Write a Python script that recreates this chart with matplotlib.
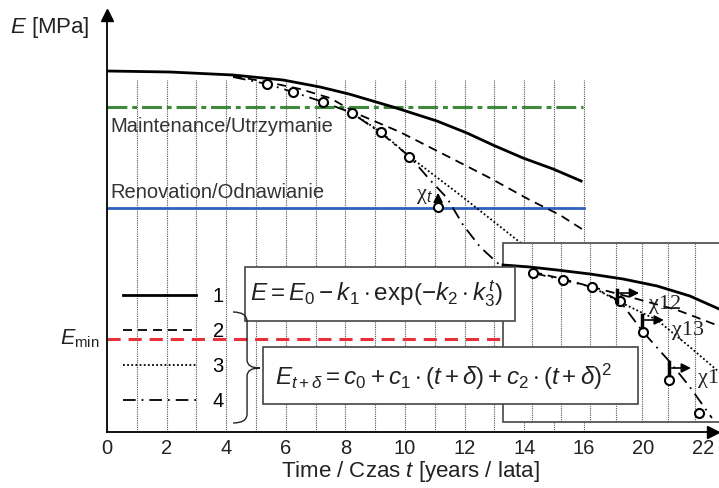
import numpy as np
import matplotlib.pyplot as plt
from matplotlib.patches import Rectangle, PathPatch
from matplotlib.path import Path

plt.rcParams['font.family'] = ['Liberation Sans', 'DejaVu Sans']
plt.rcParams['mathtext.fontset'] = 'custom'
plt.rcParams['mathtext.rm'] = 'Liberation Sans'
plt.rcParams['mathtext.it'] = 'Liberation Sans:italic'
plt.rcParams['mathtext.bf'] = 'Liberation Sans:bold'

# --- dane (czas w latach, E w jednostkach umownych) ---
# krzywa 1 (ciagla)
t1 = [0, 2.11, 4.23, 5.91, 7.15, 8.12, 9.60, 11.07, 12.08, 12.95, 13.96, 14.97, 15.91]
e1 = [90.25, 90.0, 89.25, 88.0, 86.25, 84.5, 81.25, 77.75, 74.75, 71.75, 68.5, 65.75, 62.75]
# krzywa 2 (kreskowa)
t2 = [4.23, 5.37, 6.48, 7.48, 8.49, 9.83, 11.41, 12.85, 14.19, 15.2, 16.04]
e2 = [89.0, 87.5, 85.75, 83.5, 79.25, 75.0, 69.0, 63.5, 58.0, 54.25, 50.25]
# krzywa 3 (kropkowa)
t3 = [8.22, 9.19, 10.17, 11.85, 13.76, 14.87]
e3 = [79.75, 75.0, 68.75, 59.25, 48.0, 41.75]
# krzywa 4 (kreska-kropka)
t4 = [4.23, 5.37, 6.24, 7.25, 8.22, 9.19, 10.17, 10.84, 11.41, 11.95, 12.52, 13.29]
e4 = [88.75, 87.0, 85.0, 82.5, 79.75, 74.75, 68.75, 63.0, 58.5, 51.75, 46.25, 41.0]
# pomiary (kolka)
t_obs = [5.37, 6.24, 7.25, 8.22, 9.19, 10.13, 11.11]
e_obs = [87.0, 85.0, 82.5, 79.75, 75.0, 68.75, 56.25]

e_maint = 81.25
e_renov = 56.0
e_min = 23.25

# powiekszenie (inset)
ti1 = [13.29, 14.19, 15.10, 16.21, 17.32, 18.46, 19.56, 20.54]
ei1 = [41.75, 41.25, 40.5, 39.5, 38.25, 36.5, 34.0, 30.75]
ti2 = [14.30, 15.30, 16.28, 17.79, 19.13, 20.54]
ei2 = [40.0, 38.25, 36.25, 33.25, 30.5, 26.5]
ti3 = [16.28, 17.21, 18.46, 19.56, 20.54]
ei3 = [36.25, 32.5, 28.0, 21.25, 15.0]
ti4 = [14.30, 15.30, 16.28, 17.21, 17.99, 18.89, 19.56, 20.30]
ei4 = [39.75, 38.0, 36.25, 32.75, 25.0, 17.5, 11.25, 3.5]
ti_obs = [14.30, 15.30, 16.28, 17.21, 17.99, 18.86, 19.87]
ei_obs = [39.75, 38.0, 36.25, 32.75, 25.0, 13.0, 4.75]
inset_grid = [14.26, 15.23, 16.21, 17.08, 17.95, 18.83, 19.73]

grid_years = np.arange(1, 17)
tick_pos = [0, 2, 4, 6, 8, 10, 12, 14, 16, 18, 20]
tick_lab = ['0', '2', '4', '6', '8', '10', '12', '14', '16', '20', '22']

fig = plt.figure(figsize=(7.19, 4.88), dpi=100)
ax = fig.add_axes([107 / 719, 56 / 488, 606 / 719, 417 / 488])
ax.set_xlim(0, 606 / 29.8)
ax.set_ylim(0, 417 / 4)

for s in ['top', 'right']:
    ax.spines[s].set_visible(False)
for s in ['left', 'bottom']:
    ax.spines[s].set_linewidth(1.3)
ax.plot(0, 1, '^k', ms=8, transform=ax.transAxes, clip_on=False)
ax.plot(1, 0, '>k', ms=8, transform=ax.transAxes, clip_on=False)

ax.set_yticks([])
ax.set_xticks(tick_pos)
ax.set_xticklabels(tick_lab, fontsize=14.5, color='#222')
ax.tick_params(axis='x', length=0, pad=5)
ax.set_xlabel('Time / Czas $t$ [years / lata]', fontsize=16, color='#222', labelpad=1)

# siatka
ax.vlines(grid_years, 0, 88, colors='#555', linestyles=(0, (1, 1)), lw=0.8, zorder=1)

# poziomy
ax.plot([0, 15.97], [e_maint, e_maint], color='#3f8a3a', lw=2.2,
        linestyle=(0, (6.5, 1.6, 1.6, 1.6)), zorder=2)
ax.plot([0, 16.0], [e_renov, e_renov], color='#2f5fbf', lw=2.0, zorder=2)
ax.plot([0, 13.5], [e_min, e_min], color='#e8303a', lw=2.2,
        linestyle=(0, (4.3, 2.6)), zorder=2)

ax.text(0.1, 76.5, 'Maintenance/Utrzymanie', fontsize=14.5, color='#333', va='center')
ax.text(0.1, 60.0, 'Renovation/Odnawianie', fontsize=14.5, color='#333', va='center')

# krzywe
l1, = ax.plot(t1, e1, color='k', lw=2.0, zorder=3)
l2, = ax.plot(t2, e2, color='k', lw=1.3, linestyle=(0, (5, 3.3)), zorder=3)
l3, = ax.plot(t3, e3, color='k', lw=1.3, linestyle=(0, (1, 1.3)), zorder=3)
l4, = ax.plot(t4, e4, color='k', lw=1.3, linestyle=(0, (7, 3.3, 1, 3.3)), zorder=3)
ax.plot(t_obs, e_obs, 'o', mfc='white', mec='k', mew=1.5, ms=6.5, zorder=3.5)

# chi_t
ax.annotate('', xy=(11.11, 60.5), xytext=(11.11, 57.0),
            arrowprops=dict(arrowstyle='-|>', color='k', lw=1.2, mutation_scale=14), zorder=4)
ax.text(10.95, 59.0, r'χ$_t$', family='Liberation Serif', fontsize=16,
        ha='right', va='center', color='#222')

# inset
ax.add_patch(Rectangle((13.29, 2.5), 10, 44.75, fc='white', ec='#555', lw=1.3,
                       zorder=4, clip_on=False))
ax.vlines(inset_grid, 2.5, 47.25, colors='#555', linestyles=(0, (1, 1)), lw=0.8, zorder=4.2)
ax.plot(ti1, ei1, color='k', lw=2.0, zorder=4.5, clip_on=False)
ax.plot(ti2, ei2, color='k', lw=1.3, linestyle=(0, (5, 3.3)), zorder=4.5, clip_on=False)
ax.plot(ti3, ei3, color='k', lw=1.3, linestyle=(0, (1, 1.3)), zorder=4.5, clip_on=False)
ax.plot(ti4, ei4, color='k', lw=1.3, linestyle=(0, (7, 3.3, 1, 3.3)), zorder=4.5, clip_on=False)
ax.plot(ti_obs, ei_obs, 'o', mfc='white', mec='k', mew=1.5, ms=6.5, zorder=4.6, clip_on=False)

chi = [(17.11, 32.5, 35.5, 34.75, 17.95, 18.2, 32.0, 'χ12'),
       (17.95, 26.25, 29.25, 28.0, 18.78, 18.97, 25.25, 'χ13'),
       (18.86, 14.25, 17.5, 16.0, 19.69, 19.83, 13.5, 'χ14')]
for x0, yb, yt, ya, xa, xl, yl, lab in chi:
    ax.plot([x0, x0], [yb, yt], color='k', lw=2.5, zorder=4.8, clip_on=False)
    ax.annotate('', xy=(xa, ya), xytext=(x0, ya), annotation_clip=False,
                arrowprops=dict(arrowstyle='-|>', color='k', lw=1.2, mutation_scale=14), zorder=4.8)
    ax.text(xl, yl, lab, family='Liberation Serif', fontsize=16, va='center',
            color='#222', zorder=4.8, clip_on=False)

# wzory
ax.add_patch(Rectangle((4.63, 27.75), 9.06, 13.5, fc='white', ec='#444', lw=1.2, zorder=6))
ax.text(9.06, 34.5, r'$E = E_0 - k_1 \cdot \mathrm{exp}(-k_2 \cdot k_3^{\,t})$',
        fontsize=17.5, ha='center', va='center', color='#222', zorder=7)
ax.add_patch(Rectangle((5.23, 7.0), 12.59, 14.25, fc='white', ec='#444', lw=1.2, zorder=6))
ax.text(11.31, 13.75, r'$E_{t+\delta} = c_0 + c_1 \cdot (t+\delta) + c_2 \cdot (t+\delta)^2$',
        fontsize=17.5, ha='center', va='center', color='#222', zorder=7)

# klamra
verts = [(4.23, 30), (4.70, 30), (4.70, 27.5), (4.70, 18), (4.70, 16), (5.13, 16),
         (4.70, 16), (4.70, 14), (4.70, 4.5), (4.70, 2.25), (4.23, 2.25)]
codes = [Path.MOVETO, Path.CURVE3, Path.CURVE3, Path.LINETO, Path.CURVE3, Path.CURVE3,
         Path.CURVE3, Path.CURVE3, Path.LINETO, Path.CURVE3, Path.CURVE3]
ax.add_patch(PathPatch(Path(verts, codes), fc='none', ec='#222', lw=1.0, zorder=6))

# legenda
ax.legend([l1, l2, l3, l4], ['1', '2', '3', '4'], loc='center left',
          bbox_to_anchor=(16 / 606, 83 / 417), frameon=False, fontsize=14.5,
          handlelength=3.6, handletextpad=0.85, labelspacing=0.8,
          borderpad=0, borderaxespad=0)

fig.text(10 / 719, 1 - 28 / 488, '$E$ [MPa]', fontsize=16, va='center', color='#222')
ax.text(-0.25, e_min, r'$E_{\mathrm{min}}$', fontsize=15.5, ha='right', va='center',
        color='#222', clip_on=False)

fig.savefig('out.png', dpi=100)
